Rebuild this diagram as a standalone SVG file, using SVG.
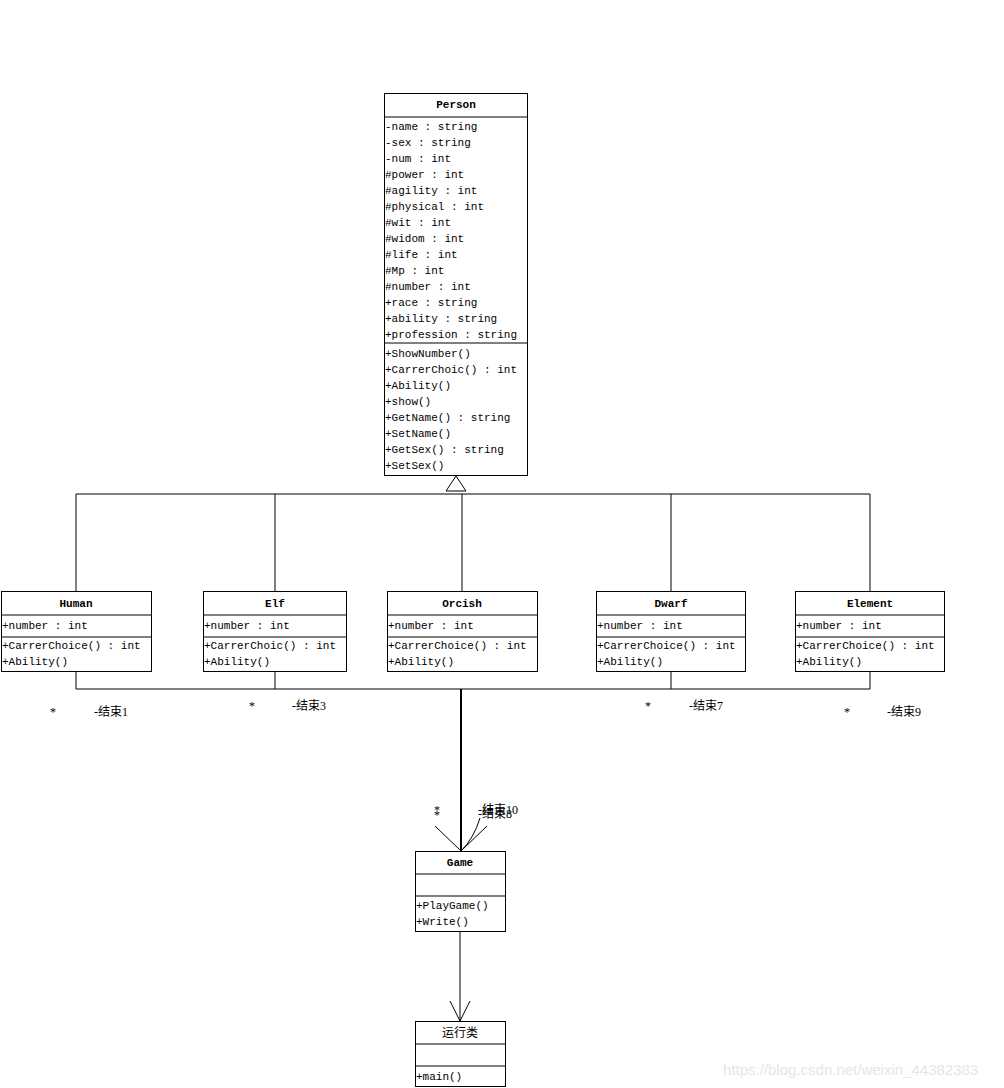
<svg xmlns="http://www.w3.org/2000/svg" width="1004" height="1088" viewBox="0 0 1004 1088">
<style>
.box{fill:#fff;stroke:#000;stroke-width:1}
.ln{stroke:#000;stroke-width:1;fill:none}
.t{font-family:"Liberation Mono","Noto Sans CJK SC",monospace;font-size:11px;fill:#000}
.h{font-family:"Liberation Mono","Noto Sans CJK SC",monospace;font-size:11px;font-weight:bold;fill:#000;text-anchor:middle}
.lbl{font-family:"Liberation Serif","Noto Sans CJK SC",serif;font-size:12px;fill:#000}
.wm{font-family:"Liberation Sans",Arial,sans-serif;font-size:15px;fill:#e6e6e6}
</style>
<rect width="1004" height="1088" fill="#fff"/>
<g id="connectors">
  <!-- inheritance -->
  <line class="ln" x1="76" y1="494" x2="870" y2="494"/>
  <line class="ln" x1="76" y1="494" x2="76" y2="591"/>
  <line class="ln" x1="275" y1="494" x2="275" y2="591"/>
  <line class="ln" x1="462" y1="494" x2="462" y2="591"/>
  <line class="ln" x1="671" y1="494" x2="671" y2="591"/>
  <line class="ln" x1="870" y1="494" x2="870" y2="591"/>
  <polygon points="456,476 446,491 466,491" fill="#fff" stroke="#000" stroke-width="1"/>
  <!-- associations -->
  <line class="ln" x1="76" y1="689" x2="870" y2="689"/>
  <line class="ln" x1="76" y1="672" x2="76" y2="689"/>
  <line class="ln" x1="275" y1="672" x2="275" y2="689"/>
  <line class="ln" x1="671" y1="672" x2="671" y2="689"/>
  <line class="ln" x1="870" y1="672" x2="870" y2="689"/>
  <line x1="461" y1="689" x2="461" y2="851" stroke="#000" stroke-width="2"/>
  <polyline class="ln" points="435,826 461,851 487,826"/>
  <path class="ln" d="M461,851 Q474,838 480,818"/>
  <line class="ln" x1="460" y1="931" x2="460" y2="1021"/>
  <polyline class="ln" points="450,1001 460,1021 470,1001"/>
  <!-- labels -->
  <text class="lbl" x="50" y="716">*</text>
  <text class="lbl" x="94" y="716">-结束1</text>
  <text class="lbl" x="249" y="710">*</text>
  <text class="lbl" x="292" y="710">-结束3</text>
  <text class="lbl" x="645" y="710">*</text>
  <text class="lbl" x="689" y="710">-结束7</text>
  <text class="lbl" x="844" y="716">*</text>
  <text class="lbl" x="887" y="716">-结束9</text>
  <text class="lbl" x="434" y="814">*</text>
  <text class="lbl" x="434" y="819">*</text>
  <text class="lbl" x="478" y="814">-结束10</text>
  <text class="lbl" x="478" y="818">-结束8</text>
</g>
<g id="Person">
  <rect class="box" x="384.5" y="93.5" width="143" height="382"/>
  <line class="ln" x1="384" y1="117" x2="527" y2="117"/>
  <line class="ln" x1="384" y1="343" x2="527" y2="343"/>
  <text class="h" x="456" y="108">Person</text>
  <text class="t" x="385" y="130">-name : string</text>
  <text class="t" x="385" y="146">-sex : string</text>
  <text class="t" x="385" y="162">-num : int</text>
  <text class="t" x="385" y="178">#power : int</text>
  <text class="t" x="385" y="194">#agility : int</text>
  <text class="t" x="385" y="210">#physical : int</text>
  <text class="t" x="385" y="226">#wit : int</text>
  <text class="t" x="385" y="242">#widom : int</text>
  <text class="t" x="385" y="258">#life : int</text>
  <text class="t" x="385" y="274">#Mp : int</text>
  <text class="t" x="385" y="290">#number : int</text>
  <text class="t" x="385" y="306">+race : string</text>
  <text class="t" x="385" y="322">+ability : string</text>
  <text class="t" x="385" y="338">+profession : string</text>
  <text class="t" x="385" y="357">+ShowNumber()</text>
  <text class="t" x="385" y="373">+CarrerChoic() : int</text>
  <text class="t" x="385" y="389">+Ability()</text>
  <text class="t" x="385" y="405">+show()</text>
  <text class="t" x="385" y="421">+GetName() : string</text>
  <text class="t" x="385" y="437">+SetName()</text>
  <text class="t" x="385" y="453">+GetSex() : string</text>
  <text class="t" x="385" y="469">+SetSex()</text>
</g>
<g id="Human">
  <rect class="box" x="1.5" y="591.5" width="150" height="80"/>
  <line class="ln" x1="1" y1="615" x2="151" y2="615"/>
  <line class="ln" x1="1" y1="637" x2="151" y2="637"/>
  <text class="h" x="76" y="607">Human</text>
  <text class="t" x="2" y="629">+number : int</text>
  <text class="t" x="2" y="649">+CarrerChoice() : int</text>
  <text class="t" x="2" y="665">+Ability()</text>
</g>
<g id="Elf">
  <rect class="box" x="203.5" y="591.5" width="143" height="80"/>
  <line class="ln" x1="203" y1="615" x2="346" y2="615"/>
  <line class="ln" x1="203" y1="637" x2="346" y2="637"/>
  <text class="h" x="275" y="607">Elf</text>
  <text class="t" x="204" y="629">+number : int</text>
  <text class="t" x="204" y="649">+CarrerChoic() : int</text>
  <text class="t" x="204" y="665">+Ability()</text>
</g>
<g id="Orcish">
  <rect class="box" x="387.5" y="591.5" width="150" height="80"/>
  <line class="ln" x1="387" y1="615" x2="537" y2="615"/>
  <line class="ln" x1="387" y1="637" x2="537" y2="637"/>
  <text class="h" x="462" y="607">Orcish</text>
  <text class="t" x="388" y="629">+number : int</text>
  <text class="t" x="388" y="649">+CarrerChoice() : int</text>
  <text class="t" x="388" y="665">+Ability()</text>
</g>
<g id="Dwarf">
  <rect class="box" x="596.5" y="591.5" width="149" height="80"/>
  <line class="ln" x1="596" y1="615" x2="745" y2="615"/>
  <line class="ln" x1="596" y1="637" x2="745" y2="637"/>
  <text class="h" x="671" y="607">Dwarf</text>
  <text class="t" x="597" y="629">+number : int</text>
  <text class="t" x="597" y="649">+CarrerChoice() : int</text>
  <text class="t" x="597" y="665">+Ability()</text>
</g>
<g id="Element">
  <rect class="box" x="795.5" y="591.5" width="149" height="80"/>
  <line class="ln" x1="795" y1="615" x2="944" y2="615"/>
  <line class="ln" x1="795" y1="637" x2="944" y2="637"/>
  <text class="h" x="870" y="607">Element</text>
  <text class="t" x="796" y="629">+number : int</text>
  <text class="t" x="796" y="649">+CarrerChoice() : int</text>
  <text class="t" x="796" y="665">+Ability()</text>
</g>
<g id="Game">
  <rect class="box" x="415.5" y="851.5" width="90" height="80"/>
  <line class="ln" x1="415" y1="874" x2="505" y2="874"/>
  <line class="ln" x1="415" y1="896" x2="505" y2="896"/>
  <text class="h" x="460" y="866">Game</text>
  <text class="t" x="416" y="909">+PlayGame()</text>
  <text class="t" x="416" y="925">+Write()</text>
</g>
<g id="Runner">
  <rect class="box" x="415.5" y="1021.5" width="90" height="65"/>
  <line class="ln" x1="415" y1="1044" x2="505" y2="1044"/>
  <line class="ln" x1="415" y1="1066" x2="505" y2="1066"/>
  <text class="h" x="460" y="1037" style="font-family:'Noto Sans CJK SC',sans-serif;font-weight:normal;font-size:12px">运行类</text>
  <text class="t" x="416" y="1080">+main()</text>
</g>
<text class="wm" x="723" y="1075">https://blog.csdn.net/weixin_44382383</text>
</svg>
